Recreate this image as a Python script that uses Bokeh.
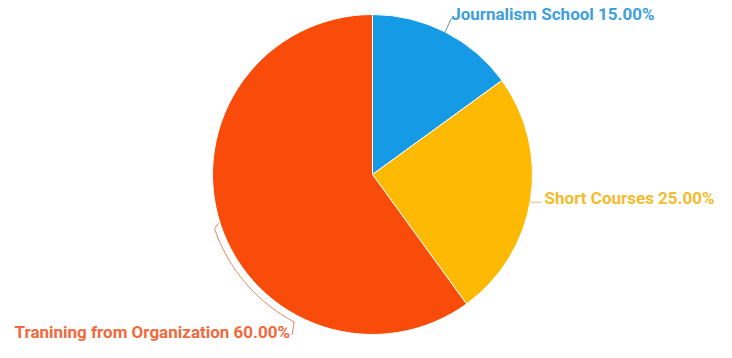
import numpy as np
from bokeh.plotting import figure
from bokeh.models import Range1d, ColumnDataSource
from bokeh.core.properties import value
from bokeh.embed import file_html
from bokeh.resources import INLINE

# ---- data ----
categories = ["Journalism School", "Short Courses", "Tranining from Organization"]
shares = [15.0, 25.0, 60.0]
colors = ["#159BE6", "#FEB902", "#F94C0B"]
text_colors = ["#3E9FDD", "#F4BB2C", "#F2693B"]

# ---- layout (pixel-like data space) ----
W, H = 716, 342
cx, cy, R = 380, 176, 160

p = figure(width=W, height=H, output_backend="svg", toolbar_location=None,
           x_range=Range1d(8, 8 + W), y_range=Range1d(8, 8 + H),
           min_border=0, outline_line_color=None)
p.axis.visible = False
p.grid.visible = False
p.background_fill_color = "white"
p.border_fill_color = "white"

frac = np.array(shares) / sum(shares)
cum_end = np.cumsum(frac)
cum_start = cum_end - frac
start = np.deg2rad(90 - 360 * cum_end)
end = np.deg2rad(90 - 360 * cum_start)
mid = (start + end) / 2

src = ColumnDataSource(dict(start=start, end=end, color=colors))
p.wedge(x=cx, y=cy, radius=R, start_angle="start", end_angle="end",
        fill_color="color", line_color="white", line_width=1, source=src)

font = value("Roboto")
fs = "17px"

# Label 0 (blue)
a = mid[0]
ex, ey = cx + R * np.cos(a), cy + R * np.sin(a)
p.line([ex, ex + 6, ex + 7], [ey, ey + 13, ey + 13], line_color="#6A8CA8", line_width=1)
p.text([ex + 6], [ey + 18], text=[f"{categories[0]} {shares[0]:.2f}%"],
       text_color=text_colors[0], text_font=font, text_font_size=fs,
       text_font_style="bold", text_baseline="middle", text_align="left")

# Label 1 (yellow)
a = mid[1]
ex, ey = cx + (R - 2) * np.cos(a), cy + (R - 2) * np.sin(a)
p.line([ex, ex + 3, ex + 13], [ey, ey - 3, ey - 3], line_color="#E4BE66", line_width=1)
p.text([ex + 16], [ey + 1], text=[f"{categories[1]} {shares[1]:.2f}%"],
       text_color=text_colors[1], text_font=font, text_font_size=fs,
       text_font_style="bold", text_baseline="middle", text_align="left")

# Label 2 (orange): bracket-like arc leader along slice edge
r2 = R + 7
t = np.deg2rad(np.linspace(199, 242, 40))
ax_ = cx + r2 * np.cos(t)
ay_ = cy + r2 * np.sin(t)
hx = cx + (R + 4) * np.cos(np.deg2rad(198))
hy = cy + (R + 4) * np.sin(np.deg2rad(198))
xs = [hx + 2] + list(ax_) + [ax_[-1] - 2]
ys = [hy + 2] + list(ay_) + [ay_[-1] - 13]
p.line(xs, ys, line_color="#E8825E", line_width=1)
p.text([ax_[-1] - 4], [ay_[-1] - 10.5], text=[f"{categories[2]} {shares[2]:.2f}%"],
       text_color=text_colors[2], text_font=font, text_font_size=fs,
       text_font_style="bold", text_baseline="middle", text_align="right")

open("out.html", "w").write(file_html(p, INLINE))
